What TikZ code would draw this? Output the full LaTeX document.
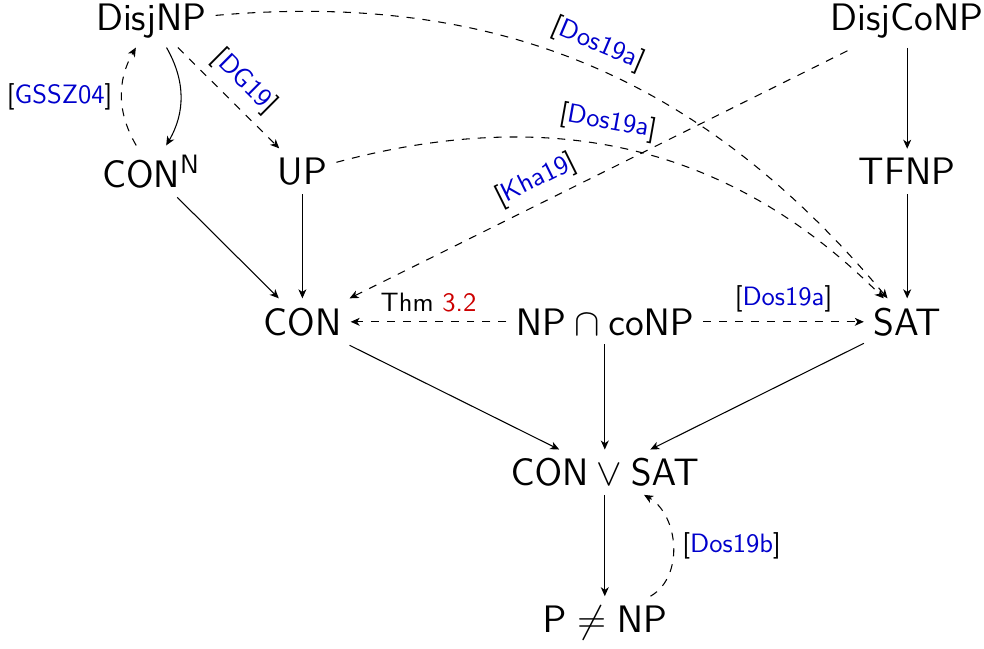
\documentclass[tikz,border=0pt]{standalone}
\usetikzlibrary{arrows.meta}
\definecolor{citeblue}{rgb}{0,0,0.8}
\definecolor{refred}{rgb}{0.8,0,0}
\newcommand{\mycit}[1]{[\textcolor{citeblue}{#1}]}
\begin{document}
\begin{tikzpicture}[x=2cm,y=1.9894cm,
  >={Stealth[length=3.4pt,width=3pt,inset=1pt]},
  main/.style={font=\sffamily\Large},
  lab/.style={font=\sffamily\normalsize}]
\useasboundingbox (0,0.1397) rectangle (6.508,-4.169);
\node[main] (disjnp) at (1,0) {DisjNP};
\node[main] (disjconp) at (6,0) {DisjCoNP};
\node[main] (conn) at (1,-1) {CON$^{\mathsf{N}}$};
\node[main] (up) at (2,-1) {UP};
\node[main] (tfnp) at (6,-1) {TFNP};
\node[main] (con) at (2,-2) {CON};
\node[main] (nc) at (4,-2) {$\mathsf{NP}\cap\mathsf{coNP}$};
\node[main] (sat) at (6,-2) {SAT};
\node[main] (cs) at (4,-3) {$\mathsf{CON}\vee\mathsf{SAT}$};
\node[main] (p) at (4,-4) {$\mathsf{P}\neq\mathsf{NP}$};
\draw[->] (disjnp) to[bend left=30] (conn);
\draw[->,dashed] (conn) to[bend left=30] node[left,lab]{\mycit{GSSZ04}} (disjnp);
\draw[->,dashed] (disjnp) -- node[sloped,above,lab]{\mycit{DG19}} (up);
\draw[->,dashed] (disjnp) to[out=5,in=130] node[sloped,above,lab,pos=0.5]{\mycit{Dos19a}} (sat);
\draw[->,dashed] (up) to[out=15,in=135] node[sloped,above,lab,pos=0.45]{\mycit{Dos19a}} (sat);
\draw[<-,dashed] (con) -- node[sloped,above,lab,pos=0.39]{\mycit{Kha19}} (disjconp);
\draw[->] (disjconp) -- (tfnp);
\draw[->] (tfnp) -- (sat);
\draw[->] (conn) -- (con);
\draw[->] (up) -- (con);
\draw[->,dashed] (nc) -- node[above,lab]{Thm \textcolor{refred}{3.2}} (con);
\draw[->,dashed] (nc) -- node[above,lab]{\mycit{Dos19a}} (sat);
\draw[->] (con) -- (cs);
\draw[->] (nc) -- (cs);
\draw[->] (sat) -- (cs);
\draw[->] (cs) -- (p);
\draw[->,dashed] (p) to[out=30,in=-30] node[right,lab]{\mycit{Dos19b}} (cs);
\end{tikzpicture}
\end{document}
